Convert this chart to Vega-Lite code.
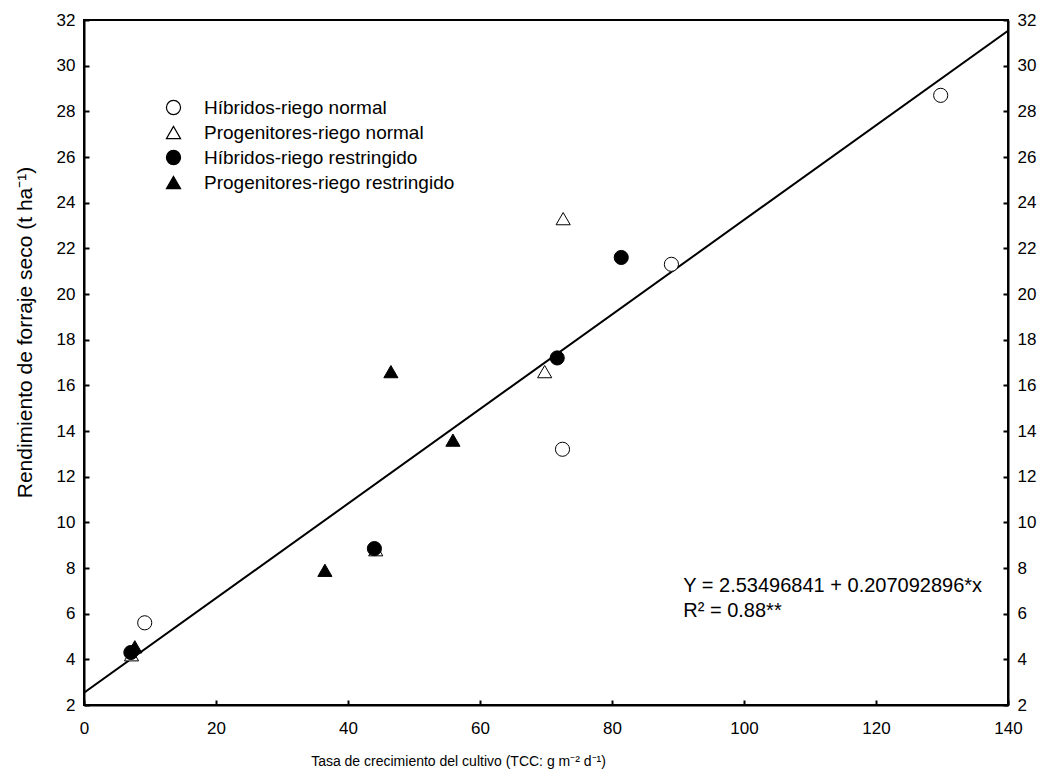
{
  "$schema": "https://vega.github.io/schema/vega-lite/v6.json",
  "width": 924,
  "height": 685,
  "autosize": {"type": "none"},
  "padding": {"left": 84, "top": 20, "right": 36, "bottom": 72},
  "background": "white",
  "config": {
    "font": "Liberation Sans",
    "view": {"stroke": "black", "strokeWidth": 2},
    "axis": {"grid": false, "domainColor": "black", "domainWidth": 2, "tickColor": "black", "tickWidth": 2, "labelColor": "black", "titleColor": "black", "labelFont": "Liberation Sans", "titleFont": "Liberation Sans", "titleFontWeight": "normal"}
  },
  "layer": [
    {
      "data": {"values": [{"x": 0, "y": 2.535}, {"x": 140, "y": 31.528}]},
      "mark": {"type": "line", "color": "black", "strokeWidth": 2, "clip": true},
      "encoding": {
        "x": {"field": "x", "type": "quantitative", "scale": {"domain": [0, 140], "nice": false, "zero": false},
          "axis": {"values": [0, 20, 40, 60, 80, 100, 120, 140], "tickSize": -5, "labelFontSize": 17, "labelPadding": 20, "labelFlush": false, "title": "Tasa de crecimiento del cultivo (TCC:  g m⁻² d⁻¹)", "titleFontSize": 14, "titlePadding": 18, "titleX": 374}},
        "y": {"field": "y", "type": "quantitative", "scale": {"domain": [2, 32], "nice": false, "zero": false},
          "axis": {"values": [2,4,6,8,10,12,14,16,18,20,22,24,26,28,30,32], "tickSize": -5, "labelFontSize": 17, "labelPadding": 14, "labelFlush": false, "title": "Rendimiento de forraje seco (t ha⁻¹)", "titleFontSize": 21, "titlePadding": 21, "titleY": 312}}
      }
    },
    {
      "data": {"values": [
        {"grupo": "Híbridos-riego normal", "tcc": 9.2, "rend": 5.6},
        {"grupo": "Híbridos-riego normal", "tcc": 72.5, "rend": 13.2},
        {"grupo": "Híbridos-riego normal", "tcc": 89.0, "rend": 21.3},
        {"grupo": "Híbridos-riego normal", "tcc": 129.8, "rend": 28.7},
        {"grupo": "Progenitores-riego normal", "tcc": 7.2, "rend": 4.2},
        {"grupo": "Progenitores-riego normal", "tcc": 44.2, "rend": 8.8},
        {"grupo": "Progenitores-riego normal", "tcc": 69.8, "rend": 16.6},
        {"grupo": "Progenitores-riego normal", "tcc": 72.6, "rend": 23.3},
        {"grupo": "Híbridos-riego restringido", "tcc": 7.1, "rend": 4.3},
        {"grupo": "Híbridos-riego restringido", "tcc": 44.0, "rend": 8.85},
        {"grupo": "Híbridos-riego restringido", "tcc": 71.7, "rend": 17.2},
        {"grupo": "Híbridos-riego restringido", "tcc": 81.4, "rend": 21.6},
        {"grupo": "Progenitores-riego restringido", "tcc": 7.7, "rend": 4.55},
        {"grupo": "Progenitores-riego restringido", "tcc": 36.5, "rend": 7.9},
        {"grupo": "Progenitores-riego restringido", "tcc": 46.5, "rend": 16.6},
        {"grupo": "Progenitores-riego restringido", "tcc": 55.9, "rend": 13.6}
      ]},
      "mark": {"type": "point", "filled": true, "stroke": "black", "strokeWidth": 1, "size": 200, "opacity": 1},
      "encoding": {
        "x": {"field": "tcc", "type": "quantitative"},
        "y": {"field": "rend", "type": "quantitative", "axis": null},
        "shape": {"field": "grupo", "type": "nominal",
          "scale": {"domain": ["Híbridos-riego normal", "Progenitores-riego normal", "Híbridos-riego restringido", "Progenitores-riego restringido"], "range": ["circle", "triangle-up", "circle", "triangle-up"]},
          "legend": null},
        "color": {"field": "grupo", "type": "nominal",
          "scale": {"domain": ["Híbridos-riego normal", "Progenitores-riego normal", "Híbridos-riego restringido", "Progenitores-riego restringido"], "range": ["white", "white", "black", "black"]},
          "legend": {"title": null, "orient": "none", "legendX": 80, "legendY": 78, "padding": 0, "symbolSize": 200, "labelFontSize": 19, "labelLimit": 500, "labelColor": "black", "labelOffset": 21, "rowPadding": 5, "symbolOpacity": 1, "symbolStrokeColor": "black", "symbolStrokeWidth": 1.2,
            "encode": {"symbols": {"update": {
              "stroke": {"value": "black"},
              "strokeWidth": {"value": 1.2}
            }}}}}
      }
    },
    {
      "data": {"values": [{"tcc": 0, "rend": 2}]},
      "mark": {"type": "point", "opacity": 0},
      "encoding": {
        "x": {"field": "tcc", "type": "quantitative"},
        "y": {"field": "rend", "type": "quantitative", "axis": {"orient": "right", "values": [2,4,6,8,10,12,14,16,18,20,22,24,26,28,30,32], "tickSize": -5, "labelFontSize": 17, "labelPadding": 14, "labelFlush": false, "title": null}}
      }
    },
    {
      "data": {"values": [
        {"tcc": 90.8, "rend": 7.2, "txt": "Y = 2.53496841 + 0.207092896*x"},
        {"tcc": 90.8, "rend": 6.1, "txt": "R² = 0.88**"}
      ]},
      "mark": {"type": "text", "align": "left", "baseline": "middle", "fontSize": 20, "font": "Liberation Sans", "color": "black"},
      "encoding": {
        "x": {"field": "tcc", "type": "quantitative"},
        "y": {"field": "rend", "type": "quantitative", "axis": null},
        "text": {"field": "txt"}
      }
    }
  ],
  "resolve": {"axis": {"y": "independent"}}
}
